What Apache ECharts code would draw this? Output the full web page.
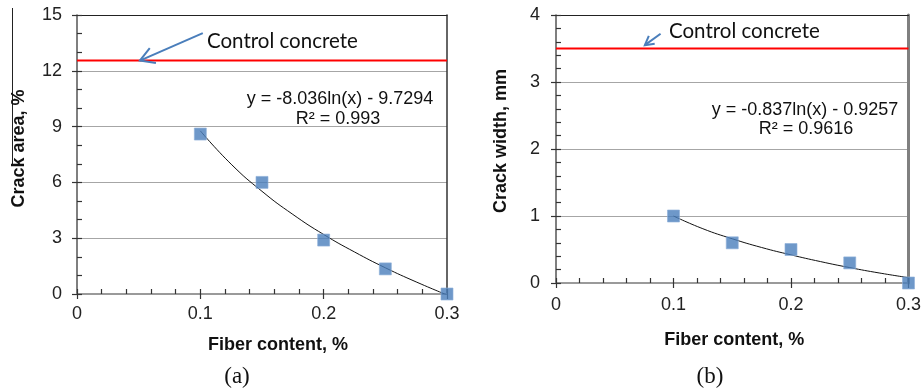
<!DOCTYPE html>
<html>
<head>
<meta charset="utf-8">
<script src="https://cdn.jsdelivr.net/npm/echarts@6/dist/echarts.min.js"></script>
<style>
html,body{margin:0;padding:0;background:#fff;}
#c{width:924px;height:390px;}
</style>
</head>
<body>
<div id="c"></div>
<script>
// ---- data ----
const fiber = [0.1, 0.15, 0.2, 0.25, 0.3];
const crackArea = [8.6, 6.0, 2.9, 1.35, 0];
const crackWidth = [1.0, 0.6, 0.5, 0.3, 0];
const trendX = [0.1, 0.125, 0.15, 0.175, 0.2, 0.225, 0.25, 0.275, 0.3];
const areaTrend = [8.77, 6.98, 5.52, 4.28, 3.20, 2.26, 1.41, 0.65, -0.05];
const widthTrend = [1.00, 0.81, 0.66, 0.53, 0.42, 0.32, 0.23, 0.15, 0.08];
const areaControl = 12.55;
const widthControl = 3.5;
const xRange = [0, 0.3];
const areaRange = [0, 15];
const widthRange = [0, 4];
// annotation arrows (data coords): tail, tip, wing1, wing2
const areaArrow = [[0.102, 14.03], [0.051, 12.55], [0.059, 13.22], [0.064, 12.42]];
const widthArrow = [[0.089, 3.72], [0.0756, 3.55], [0.079, 3.69], [0.084, 3.57]];
const texts = {
  control: 'Control concrete',
  eqA: 'y = -8.036ln(x) - 9.7294', r2A: 'R² = 0.993',
  eqB: 'y = -0.837ln(x) - 0.9257', r2B: 'R² = 0.9616',
  xName: 'Fiber content, %', yNameA: 'Crack area, %', yNameB: 'Crack width, mm',
  capA: '(a)', capB: '(b)'
};

const FONT = 'Liberation Sans, Arial, sans-serif';
const blue = '#4a7ebb';
const tickColor = '#333';
const chart = echarts.init(document.getElementById('c'), null, {renderer: 'canvas'});

function tickAxis(gi, range, step, pos, inside) {
  return { gridIndex: gi, type: 'value', min: range[0], max: range[1], interval: step, position: pos,
    axisLine: {show: false}, axisLabel: {show: false}, splitLine: {show: false},
    axisTick: {show: true, inside: true, length: inside ? 5 : -5,
      lineStyle: {color: tickColor, width: 1.2}} };
}

function xAxes(gi, nameGap, namePad, labelMargin) {
  return [
    { gridIndex: gi, type: 'value', min: xRange[0], max: xRange[1], interval: 0.1, position: 'bottom',
      name: texts.xName, nameLocation: 'middle', nameGap: nameGap,
      nameTextStyle: {fontFamily: FONT, fontWeight: 'bold', fontSize: 18, color: '#111', padding: namePad},
      axisLine: {show: true, onZero: false, lineStyle: {color: '#9a9a9a', width: 2}},
      axisTick: {show: false},
      axisLabel: {fontFamily: FONT, fontSize: 18, color: '#222', margin: labelMargin,
        formatter: v => String(+v.toFixed(2))},
      splitLine: {show: false}
    },
    tickAxis(gi, xRange, 0.1, 'bottom', false),
    tickAxis(gi, xRange, 0.02, 'bottom', true),
    { gridIndex: gi, type: 'value', min: xRange[0], max: xRange[1], interval: 0.1, position: 'top',
      axisLine: {show: true, onZero: false, lineStyle: {color: '#222', width: 1}},
      axisTick: {show: false}, axisLabel: {show: false}, splitLine: {show: false}
    }
  ];
}
function yAxes(gi, range, interval, minorStep, nameGap, namePad, labelMargin, rightColor, rightWidth) {
  return [
    { gridIndex: gi, type: 'value', min: range[0], max: range[1], interval: interval, position: 'left',
      name: gi === 0 ? texts.yNameA : texts.yNameB, nameLocation: 'middle', nameGap: nameGap, nameRotate: 90,
      nameTextStyle: {fontFamily: FONT, fontWeight: 'bold', fontSize: 18, color: '#111', padding: namePad},
      axisLine: {show: true, onZero: false, lineStyle: {color: '#555', width: 1.5}},
      axisTick: {show: false},
      axisLabel: {fontFamily: FONT, fontSize: 18, color: '#222', margin: labelMargin},
      splitLine: {show: true, lineStyle: {color: '#a6a6a6', width: 1}}
    },
    tickAxis(gi, range, interval, 'left', false),
    tickAxis(gi, range, minorStep, 'left', true),
    { gridIndex: gi, type: 'value', min: range[0], max: range[1], interval: interval, position: 'right',
      axisLine: {show: true, onZero: false, lineStyle: {color: rightColor, width: rightWidth}},
      axisTick: {show: false}, axisLabel: {show: false}, splitLine: {show: false}
    }
  ];
}

function zip(xs, ys) { return xs.map((x, i) => [x, ys[i]]); }

function panelSeries(xi, yi, vals, trend, control, arrow) {
  return [
    { type: 'line', xAxisIndex: xi, yAxisIndex: yi, data: [[xRange[0], control], [xRange[1], control]],
      symbol: 'none', lineStyle: {color: '#ff0000', width: 2}, silent: true, z: 3 },
    { type: 'line', xAxisIndex: xi, yAxisIndex: yi, data: zip(trendX, trend), smooth: true,
      symbol: 'none', lineStyle: {color: '#111', width: 1}, z: 4 },
    { type: 'scatter', xAxisIndex: xi, yAxisIndex: yi, data: zip(fiber, vals), symbol: 'rect',
      symbolSize: 12, itemStyle: {color: blue, borderColor: '#8fb0da', borderWidth: 0.8}, z: 5 },
    { type: 'line', xAxisIndex: xi, yAxisIndex: yi, data: [arrow[0], arrow[1]], symbol: 'none',
      lineStyle: {color: blue, width: 2}, z: 6 },
    { type: 'line', xAxisIndex: xi, yAxisIndex: yi, data: [arrow[2], arrow[1], arrow[3]], symbol: 'none',
      lineStyle: {color: blue, width: 2, join: 'miter'}, z: 6 }
  ];
}

function txt(x, y, s, font, align) {
  return { type: 'text', x: x, y: y, style: {text: s, font: font, fill: '#111', align: align || 'left', verticalAlign: 'middle'} };
}

const option = {
  backgroundColor: '#fff',
  animation: false,
  grid: [
    {left: 77, right: 477, top: 15, bottom: 96},
    {left: 556, right: 15, top: 15, bottom: 107}
  ],
  xAxis: [].concat(xAxes(0, 42, [0, 0, 0, 32], 11), xAxes(1, 48, [0, 0, 0, 4], 13)),
  yAxis: [].concat(
    yAxes(0, areaRange, 3, 1, 49, [0, 0, 0, 12], 15, '#333', 1.5),
    yAxes(1, widthRange, 1, 0.2, 46, [0, 0, 0, 16], 16, '#808080', 3)
  ),
  series: [].concat(
    panelSeries(0, 0, crackArea, areaTrend, areaControl, areaArrow),
    panelSeries(4, 4, crackWidth, widthTrend, widthControl, widthArrow)
  ),
  graphic: [
    { type: 'line', shape: {x1: 12.5, y1: 8, x2: 12.5, y2: 165}, style: {stroke: '#222', lineWidth: 1} },
    txt(207, 41, texts.control, '20.5px Lato, "Open Sans", sans-serif'),
    txt(669, 31, texts.control, '20.5px Lato, "Open Sans", sans-serif'),
    txt(340, 99, texts.eqA, '18px ' + FONT, 'center'),
    txt(338, 119, texts.r2A, '18px ' + FONT, 'center'),
    txt(805, 110, texts.eqB, '18px ' + FONT, 'center'),
    txt(806, 129, texts.r2B, '18px ' + FONT, 'center'),
    txt(237, 377, texts.capA, '23px "Liberation Serif", "Times New Roman", serif', 'center'),
    txt(710, 377, texts.capB, '23px "Liberation Serif", "Times New Roman", serif', 'center')
  ]
};
chart.setOption(option);
</script>
</body>
</html>
